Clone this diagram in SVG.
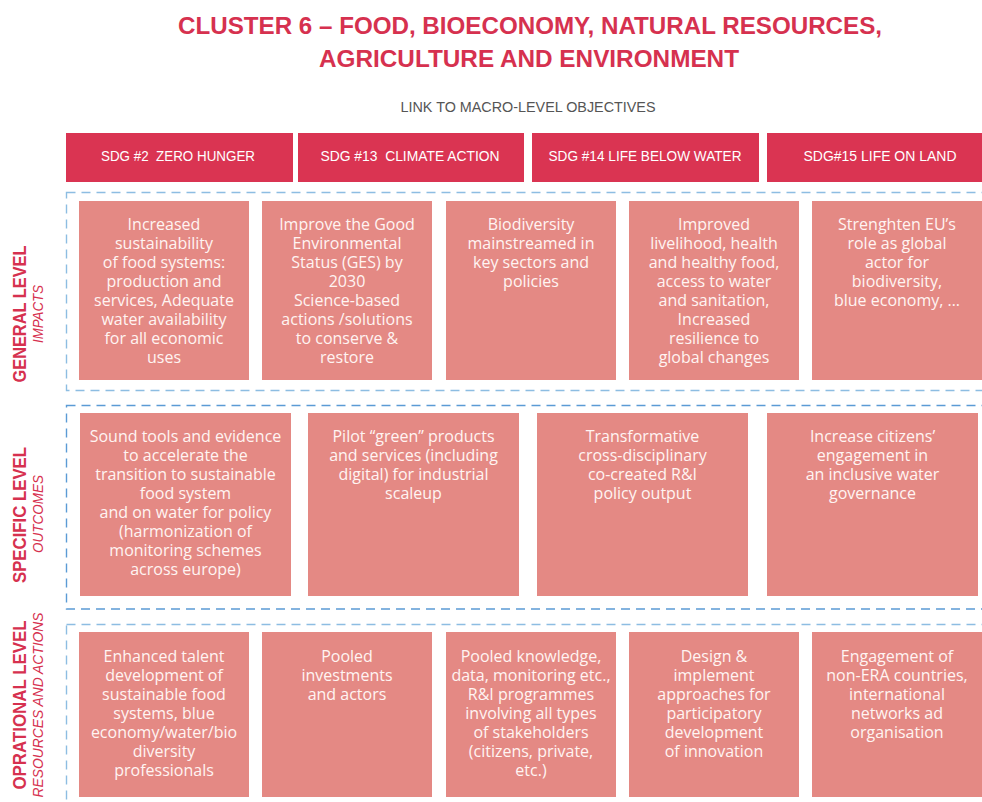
<svg xmlns="http://www.w3.org/2000/svg" width="982" height="802" viewBox="0 0 982 802">
<style>
.title{font-family:"Liberation Sans",Arial,sans-serif;font-weight:bold;font-size:24px;fill:#D6314F;text-anchor:middle}
.sub{font-family:"Liberation Sans",Arial,sans-serif;font-size:14px;fill:#555;text-anchor:middle}
.hdr{fill:#DA3452}
.hdrt{font-family:"Liberation Sans",Arial,sans-serif;font-size:14px;fill:#fff;text-anchor:middle;white-space:pre}
.box{fill:#E48984}
.bt{font-family:"Open Sans","Liberation Sans",Arial,sans-serif;font-size:16px;fill:#FFF4F2;text-anchor:middle}
.lvl{font-family:"Liberation Sans",Arial,sans-serif;font-weight:bold;font-size:18px;fill:#D6314F;text-anchor:middle}
.lvs{font-family:"Liberation Sans",Arial,sans-serif;font-style:italic;font-size:14px;fill:#D6314F;text-anchor:middle}
.band{fill:none;stroke:#8DBDE2;stroke-width:1.4;stroke-dasharray:9 6}
.band2{fill:none;stroke:#5B9BD5;stroke-width:1.4;stroke-dasharray:9 6}
</style>
<g id="title">
<text class="title" x="530" y="34" textLength="704" lengthAdjust="spacingAndGlyphs">CLUSTER 6 – FOOD, BIOECONOMY, NATURAL RESOURCES,</text>
<text class="title" x="529" y="67" textLength="420" lengthAdjust="spacingAndGlyphs">AGRICULTURE AND ENVIRONMENT</text>
<text class="sub" x="528" y="112" textLength="255" lengthAdjust="spacingAndGlyphs">LINK TO MACRO-LEVEL OBJECTIVES</text>
</g>
<g id="sdg2"><rect class="hdr" x="66" y="133" width="227" height="49"/><text class="hdrt" x="178" y="161" textLength="154" lengthAdjust="spacingAndGlyphs">SDG #2  ZERO HUNGER</text></g>
<g id="sdg13"><rect class="hdr" x="298" y="133" width="226" height="49"/><text class="hdrt" x="410" y="161" textLength="179" lengthAdjust="spacingAndGlyphs">SDG #13  CLIMATE ACTION</text></g>
<g id="sdg14"><rect class="hdr" x="532" y="133" width="227" height="49"/><text class="hdrt" x="645" y="161" textLength="193" lengthAdjust="spacingAndGlyphs">SDG #14 LIFE BELOW WATER</text></g>
<g id="sdg15"><rect class="hdr" x="767" y="133" width="215" height="49"/><text class="hdrt" x="880" y="161" textLength="153" lengthAdjust="spacingAndGlyphs">SDG#15 LIFE ON LAND</text></g>

<g id="bands">
<rect class="band" x="66.5" y="192.5" width="930" height="198"/>
<rect class="band2" x="66.5" y="405.5" width="930" height="203.5"/>
<rect class="band" x="66.5" y="624.5" width="930" height="200"/>
</g>

<g id="labels">
<text class="lvl" transform="translate(26,314) rotate(-90)" textLength="137" lengthAdjust="spacingAndGlyphs">GENERAL LEVEL</text>
<text class="lvs" transform="translate(43,314) rotate(-90)" textLength="58" lengthAdjust="spacingAndGlyphs">IMPACTS</text>
<text class="lvl" transform="translate(26,515) rotate(-90)" textLength="136" lengthAdjust="spacingAndGlyphs">SPECIFIC LEVEL</text>
<text class="lvs" transform="translate(43,514) rotate(-90)" textLength="78" lengthAdjust="spacingAndGlyphs">OUTCOMES</text>
<text class="lvl" transform="translate(26,705) rotate(-90)" textLength="169" lengthAdjust="spacingAndGlyphs">OPRATIONAL LEVEL</text>
<text class="lvs" transform="translate(43,705) rotate(-90)" textLength="185" lengthAdjust="spacingAndGlyphs">RESOURCES AND ACTIONS</text>
</g>

<g id="g1"><rect class="box" x="79" y="201" width="170" height="179"/>
<text class="bt" x="164" y="230"><tspan x="164">Increased</tspan><tspan x="164" dy="19">sustainability</tspan><tspan x="164" dy="19">of food systems:</tspan><tspan x="164" dy="19">production and</tspan><tspan x="164" dy="19">services, Adequate</tspan><tspan x="164" dy="19">water availability</tspan><tspan x="164" dy="19">for all economic</tspan><tspan x="164" dy="19">uses</tspan></text></g>
<g id="g2"><rect class="box" x="262" y="201" width="170" height="179"/>
<text class="bt" x="347" y="230"><tspan x="347">Improve the Good</tspan><tspan x="347" dy="19">Environmental</tspan><tspan x="347" dy="19">Status (GES) by</tspan><tspan x="347" dy="19">2030</tspan><tspan x="347" dy="19">Science-based</tspan><tspan x="347" dy="19">actions /solutions</tspan><tspan x="347" dy="19">to conserve &amp;</tspan><tspan x="347" dy="19">restore</tspan></text></g>
<g id="g3"><rect class="box" x="446" y="201" width="170" height="179"/>
<text class="bt" x="531" y="230"><tspan x="531">Biodiversity</tspan><tspan x="531" dy="19">mainstreamed in</tspan><tspan x="531" dy="19">key sectors and</tspan><tspan x="531" dy="19">policies</tspan></text></g>
<g id="g4"><rect class="box" x="629" y="201" width="170" height="179"/>
<text class="bt" x="714" y="230"><tspan x="714">Improved</tspan><tspan x="714" dy="19">livelihood, health</tspan><tspan x="714" dy="19">and healthy food,</tspan><tspan x="714" dy="19">access to water</tspan><tspan x="714" dy="19">and sanitation,</tspan><tspan x="714" dy="19">Increased</tspan><tspan x="714" dy="19">resilience to</tspan><tspan x="714" dy="19">global changes</tspan></text></g>
<g id="g5"><rect class="box" x="812" y="201" width="170" height="179"/>
<text class="bt" x="897" y="230"><tspan x="897">Strenghten EU’s</tspan><tspan x="897" dy="19">role as global</tspan><tspan x="897" dy="19">actor for</tspan><tspan x="897" dy="19">biodiversity,</tspan><tspan x="897" dy="19">blue economy, …</tspan></text></g>

<g id="s1"><rect class="box" x="80" y="413" width="211" height="183"/>
<text class="bt" x="185.5" y="442"><tspan x="185.5">Sound tools and evidence</tspan><tspan x="185.5" dy="19">to accelerate the</tspan><tspan x="185.5" dy="19">transition to sustainable</tspan><tspan x="185.5" dy="19">food system</tspan><tspan x="185.5" dy="19">and on water for policy</tspan><tspan x="185.5" dy="19">(harmonization of</tspan><tspan x="185.5" dy="19">monitoring schemes</tspan><tspan x="185.5" dy="19">across europe)</tspan></text></g>
<g id="s2"><rect class="box" x="308" y="413" width="211" height="183"/>
<text class="bt" x="413.5" y="442"><tspan x="413.5">Pilot “green” products</tspan><tspan x="413.5" dy="19">and services (including</tspan><tspan x="413.5" dy="19">digital) for industrial</tspan><tspan x="413.5" dy="19">scaleup</tspan></text></g>
<g id="s3"><rect class="box" x="537" y="413" width="211" height="183"/>
<text class="bt" x="642.5" y="442"><tspan x="642.5">Transformative</tspan><tspan x="642.5" dy="19">cross-disciplinary</tspan><tspan x="642.5" dy="19">co-created R&amp;I</tspan><tspan x="642.5" dy="19">policy output</tspan></text></g>
<g id="s4"><rect class="box" x="767" y="413" width="211" height="183"/>
<text class="bt" x="872.5" y="442"><tspan x="872.5">Increase citizens’</tspan><tspan x="872.5" dy="19">engagement in</tspan><tspan x="872.5" dy="19">an inclusive water</tspan><tspan x="872.5" dy="19">governance</tspan></text></g>

<g id="o1"><rect class="box" x="79" y="632" width="170" height="165"/>
<text class="bt" x="164" y="662"><tspan x="164">Enhanced talent</tspan><tspan x="164" dy="19">development of</tspan><tspan x="164" dy="19">sustainable food</tspan><tspan x="164" dy="19">systems, blue</tspan><tspan x="164" dy="19">economy/water/bio</tspan><tspan x="164" dy="19">diversity</tspan><tspan x="164" dy="19">professionals</tspan></text></g>
<g id="o2"><rect class="box" x="262" y="632" width="170" height="165"/>
<text class="bt" x="347" y="662"><tspan x="347">Pooled</tspan><tspan x="347" dy="19">investments</tspan><tspan x="347" dy="19">and actors</tspan></text></g>
<g id="o3"><rect class="box" x="446" y="632" width="170" height="165"/>
<text class="bt" x="531" y="662"><tspan x="531">Pooled knowledge,</tspan><tspan x="531" dy="19">data, monitoring etc.,</tspan><tspan x="531" dy="19">R&amp;I programmes</tspan><tspan x="531" dy="19">involving all types</tspan><tspan x="531" dy="19">of stakeholders</tspan><tspan x="531" dy="19">(citizens, private,</tspan><tspan x="531" dy="19">etc.)</tspan></text></g>
<g id="o4"><rect class="box" x="629" y="632" width="170" height="165"/>
<text class="bt" x="714" y="662"><tspan x="714">Design &amp;</tspan><tspan x="714" dy="19">implement</tspan><tspan x="714" dy="19">approaches for</tspan><tspan x="714" dy="19">participatory</tspan><tspan x="714" dy="19">development</tspan><tspan x="714" dy="19">of innovation</tspan></text></g>
<g id="o5"><rect class="box" x="812" y="632" width="170" height="165"/>
<text class="bt" x="897" y="662"><tspan x="897">Engagement of</tspan><tspan x="897" dy="19">non-ERA countries,</tspan><tspan x="897" dy="19">international</tspan><tspan x="897" dy="19">networks ad</tspan><tspan x="897" dy="19">organisation</tspan></text></g>
</svg>
